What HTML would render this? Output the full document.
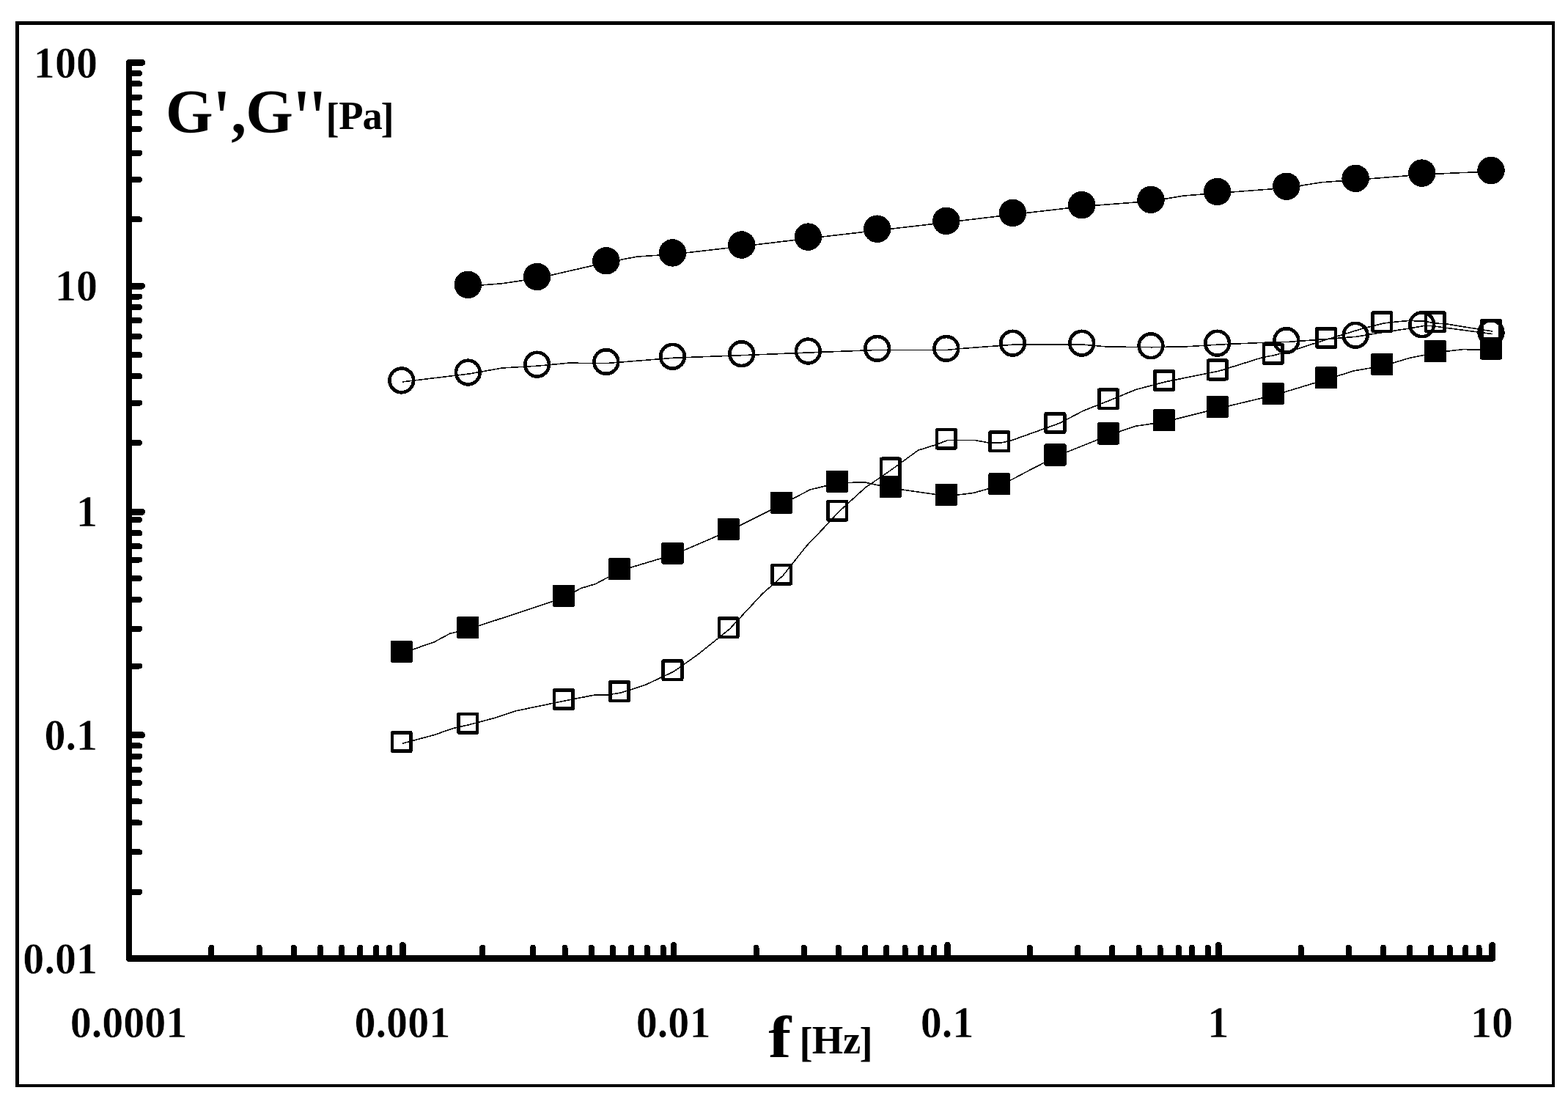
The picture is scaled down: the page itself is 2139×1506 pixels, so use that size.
<!DOCTYPE html>
<html lang="en"><head><meta charset="utf-8"><title>G&#39;, G&#39;&#39; [Pa] versus f [Hz]</title>
<style>
html,body{margin:0;padding:0;background:#fff;}
body{width:2139px;height:1506px;overflow:hidden;}
svg{display:block;}
text{font-family:"Liberation Serif",serif;font-weight:bold;fill:#000;}
.lab{font-size:58.1px;stroke:#fff;stroke-width:0.5px;}
.ttl{font-size:83px;}
.unit{font-size:54.5px;}
.ax{stroke:#000;fill:none;stroke-linecap:round;stroke-linejoin:round;}
.ln{stroke:#000;stroke-width:1.6;fill:none;stroke-linejoin:round;}
.om{stroke:#000;stroke-width:4.7;fill:none;}
.fm{fill:#000;stroke:none;}
</style></head><body>
<svg width="2139" height="1506" viewBox="0 0 2139 1506" shape-rendering="crispEdges">
<rect x="0" y="0" width="2139" height="1506" fill="#fff"/>
<path fill="#000" fill-rule="evenodd" d="M21.05 29H2120.9V1482.85H21.05ZM25.95 33.9V1478.9H2117V33.9Z"/>
<g class="ax">
<path stroke-width="8.2" d="M176 85.44V1307.4"/>
<path stroke-width="9" d="M176 1307.4H2035.62"/>
<path stroke-width="9" d="M176 1002.82H193.6M176 698.23H193.6M176 390.02H193.6M176 85.44H193.6"/>
<path stroke-width="8" d="M176 1216.75H190.1M176 1162.36H190.1M176 1122.47H190.1M176 1093.47H190.1M176 1068.08H190.1M176 1049.95H190.1M176 1031.82H190.1M176 1017.32H190.1M176 908.54H190.1M176 857.78H190.1M176 817.89H190.1M176 788.88H190.1M176 763.5H190.1M176 745.37H190.1M176 727.24H190.1M176 709.11H190.1M176 603.96H190.1M176 549.57H190.1M176 513.31H190.1M176 484.3H190.1M176 458.92H190.1M176 437.16H190.1M176 419.03H190.1M176 404.53H190.1M176 299.37H190.1M176 244.98H190.1M176 208.72H190.1M176 176.09H190.1M176 154.33H190.1M176 132.58H190.1M176 114.45H190.1M176 99.94H190.1"/>
<path stroke-width="8.6" d="M549.38 1307.4V1289.2M919.12 1307.4V1289.2M1292.5 1307.4V1289.2M1662.25 1307.4V1289.2M2035.62 1307.4V1289.2"/>
<path stroke-width="8" d="M288.38 1307.4V1292.8M353.62 1307.4V1292.8M400.75 1307.4V1292.8M437 1307.4V1292.8M466 1307.4V1292.8M491.38 1307.4V1292.8M513.12 1307.4V1292.8M531.25 1307.4V1292.8M658.12 1307.4V1292.8M727 1307.4V1292.8M770.5 1307.4V1292.8M806.75 1307.4V1292.8M835.75 1307.4V1292.8M861.12 1307.4V1292.8M882.88 1307.4V1292.8M904.62 1307.4V1292.8M1031.5 1307.4V1292.8M1096.75 1307.4V1292.8M1143.88 1307.4V1292.8M1180.12 1307.4V1292.8M1209.12 1307.4V1292.8M1234.5 1307.4V1292.8M1256.25 1307.4V1292.8M1274.38 1307.4V1292.8M1404.88 1307.4V1292.8M1470.12 1307.4V1292.8M1517.25 1307.4V1292.8M1553.5 1307.4V1292.8M1582.5 1307.4V1292.8M1607.88 1307.4V1292.8M1626 1307.4V1292.8M1647.75 1307.4V1292.8M1774.62 1307.4V1292.8M1839.88 1307.4V1292.8M1887 1307.4V1292.8M1923.25 1307.4V1292.8M1952.25 1307.4V1292.8M1977.62 1307.4V1292.8M1999.38 1307.4V1292.8M2017.5 1307.4V1292.8"/>
</g>
<g class="ln">
<path d="M640 390.32L685 386.75L734.25 379.44L828.5 357.69L870 350L919.12 346.81L1013.38 335.93L1104 325.05L1198.25 314.18L1292.5 303.3L1383.12 292.42L1477.38 281.54L1571.62 274.29L1615 267L1662.25 263.41L1756.5 256.16L1802.5 248.75L1850.75 245.28L1941.38 238.03L1995 235.5L2035.62 234.4"/>
<path d="M549.38 520.86L640 509.98L685 502L734.25 499.1L775 495.25L828.5 495.48L919.12 488.22L1013.38 484.6L1104 480.97L1198.25 477.35L1292.5 477.35L1310 475.6L1383.12 470.09L1477.38 470.09L1510 473L1571.62 473.72L1620.4 472.7L1662.25 470.09L1721.6 467.4L1756.5 466.47L1794.6 463.7L1850.75 459.22L1882.6 454L1921.3 448.2L1941.38 444.71L1952.2 444.4L1973 447.3L2035.62 455.59"/>
<path d="M549.38 890.71L592.5 875.75L613.75 864.25L623 862L640 858.08L740 825L770.5 814.56L792.5 802.5L812.5 796.5L846.62 778.3L919.12 756.55L995.25 723.91L1067.75 687.65L1105 668L1143.88 658.65L1180 658L1216.38 665.9L1292.5 676.78L1327.5 672.5L1365 662.27L1400 643.75L1441.12 622.39L1513.62 593.38L1549.3 581.3L1589.75 575.25L1662.25 557.12L1738.38 538.99L1810.88 517.23L1847 505.8L1887 499.1L1923 488.3L1959.5 480.97L1995.4 476.6L2035.62 477.35"/>
<path d="M549.38 1013.99L592.5 1002.5L617.5 993.75L640 988.61L672.5 980L705 969.5L770.5 955.98L810 948.25L829.75 947.75L846.62 945.1L880 934.5L919.12 916.09L952.5 892.5L995.25 858.08L1040 810L1067.75 785.56L1100 745L1127.5 716.25L1143.88 698.53L1180 665.5L1216.38 640.52L1252.5 614.25L1275.75 607L1292.5 600.63L1330 600.5L1350 604.25L1365 604.26L1380 600.75L1441.12 578.87L1447.5 576.25L1477.5 560.5L1513.62 546.24L1549.3 531.5L1589.75 520.86L1646.3 509.5L1662.25 506.35L1722.1 487.6L1738.38 484.6L1770.3 475.8L1810.88 462.84L1859.6 447.9L1887 441.09L1900 439.5L1921.9 437.4L1943 438.3L1959.5 441.09L1973 441.9L2015 448.7L2035.62 451.96"/>
</g>
<g class="fm">
<circle cx="638.37" cy="388.39" r="18.75"/>
<circle cx="732.62" cy="377.51" r="18.75"/>
<circle cx="826.87" cy="355.76" r="18.75"/>
<circle cx="917.49" cy="344.88" r="18.75"/>
<circle cx="1011.74" cy="334" r="18.75"/>
<circle cx="1102.37" cy="323.12" r="18.75"/>
<circle cx="1196.62" cy="312.24" r="18.75"/>
<circle cx="1290.87" cy="301.37" r="18.75"/>
<circle cx="1381.49" cy="290.49" r="18.75"/>
<circle cx="1475.74" cy="279.61" r="18.75"/>
<circle cx="1569.99" cy="272.36" r="18.75"/>
<circle cx="1660.62" cy="261.48" r="18.75"/>
<circle cx="1754.87" cy="254.23" r="18.75"/>
<circle cx="1849.12" cy="243.35" r="18.75"/>
<circle cx="1939.74" cy="236.1" r="18.75"/>
<circle cx="2033.99" cy="232.47" r="18.75"/>
<rect x="532.64" y="873.68" width="30.2" height="30.2" rx="2"/>
<rect x="623.27" y="841.04" width="30.2" height="30.2" rx="2"/>
<rect x="753.77" y="797.53" width="30.2" height="30.2" rx="2"/>
<rect x="829.89" y="761.27" width="30.2" height="30.2" rx="2"/>
<rect x="902.39" y="739.52" width="30.2" height="30.2" rx="2"/>
<rect x="978.52" y="706.88" width="30.2" height="30.2" rx="2"/>
<rect x="1051.02" y="670.62" width="30.2" height="30.2" rx="2"/>
<rect x="1127.14" y="641.61" width="30.2" height="30.2" rx="2"/>
<rect x="1199.64" y="648.87" width="30.2" height="30.2" rx="2"/>
<rect x="1275.77" y="659.74" width="30.2" height="30.2" rx="2"/>
<rect x="1348.27" y="645.24" width="30.2" height="30.2" rx="2"/>
<rect x="1424.39" y="605.35" width="30.2" height="30.2" rx="2"/>
<rect x="1496.89" y="576.35" width="30.2" height="30.2" rx="2"/>
<rect x="1573.02" y="558.22" width="30.2" height="30.2" rx="2"/>
<rect x="1645.52" y="540.09" width="30.2" height="30.2" rx="2"/>
<rect x="1721.64" y="521.96" width="30.2" height="30.2" rx="2"/>
<rect x="1794.14" y="500.2" width="30.2" height="30.2" rx="2"/>
<rect x="1870.27" y="482.07" width="30.2" height="30.2" rx="2"/>
<rect x="1942.77" y="463.94" width="30.2" height="30.2" rx="2"/>
<rect x="2018.89" y="460.31" width="30.2" height="30.2" rx="2"/>
</g>
<g class="om">
<circle cx="547.74" cy="518.93" r="16.35"/>
<circle cx="638.37" cy="508.05" r="16.35"/>
<circle cx="732.62" cy="497.17" r="16.35"/>
<circle cx="826.87" cy="493.54" r="16.35"/>
<circle cx="917.49" cy="486.29" r="16.35"/>
<circle cx="1011.74" cy="482.67" r="16.35"/>
<circle cx="1102.37" cy="479.04" r="16.35"/>
<circle cx="1196.62" cy="475.41" r="16.35"/>
<circle cx="1290.87" cy="475.41" r="16.35"/>
<circle cx="1381.49" cy="468.16" r="16.35"/>
<circle cx="1475.74" cy="468.16" r="16.35"/>
<circle cx="1569.99" cy="471.79" r="16.35"/>
<circle cx="1660.62" cy="468.16" r="16.35"/>
<circle cx="1754.87" cy="464.54" r="16.35"/>
<circle cx="1849.12" cy="457.28" r="16.35"/>
<circle cx="1939.74" cy="442.78" r="16.35"/>
<circle cx="2033.99" cy="453.66" r="16.35"/>
<rect x="534.99" y="999.31" width="25.5" height="25.5" rx="1"/>
<rect x="625.62" y="973.93" width="25.5" height="25.5" rx="1"/>
<rect x="756.12" y="941.3" width="25.5" height="25.5" rx="1"/>
<rect x="832.24" y="930.42" width="25.5" height="25.5" rx="1"/>
<rect x="904.74" y="901.41" width="25.5" height="25.5" rx="1"/>
<rect x="980.87" y="843.39" width="25.5" height="25.5" rx="1"/>
<rect x="1053.37" y="770.87" width="25.5" height="25.5" rx="1"/>
<rect x="1129.49" y="683.85" width="25.5" height="25.5" rx="1"/>
<rect x="1201.99" y="625.83" width="25.5" height="25.5" rx="1"/>
<rect x="1278.12" y="585.95" width="25.5" height="25.5" rx="1"/>
<rect x="1350.62" y="589.57" width="25.5" height="25.5" rx="1"/>
<rect x="1426.74" y="564.19" width="25.5" height="25.5" rx="1"/>
<rect x="1499.24" y="531.56" width="25.5" height="25.5" rx="1"/>
<rect x="1575.37" y="506.18" width="25.5" height="25.5" rx="1"/>
<rect x="1647.87" y="491.67" width="25.5" height="25.5" rx="1"/>
<rect x="1723.99" y="469.92" width="25.5" height="25.5" rx="1"/>
<rect x="1796.49" y="448.16" width="25.5" height="25.5" rx="1"/>
<rect x="1872.62" y="426.4" width="25.5" height="25.5" rx="1"/>
<rect x="1945.12" y="426.4" width="25.5" height="25.5" rx="1"/>
<rect x="2021.24" y="437.28" width="25.5" height="25.5" rx="1"/>
</g>
<text class="lab" transform="translate(133 105.54) scale(1 1.05)" text-anchor="end">100</text>
<text class="lab" transform="translate(133 410.12) scale(1 1.05)" text-anchor="end">10</text>
<text class="lab" transform="translate(133 718.33) scale(1 1.05)" text-anchor="end">1</text>
<text class="lab" transform="translate(133 1022.92) scale(1 1.05)" text-anchor="end">0.1</text>
<text class="lab" transform="translate(133 1327.5) scale(1 1.05)" text-anchor="end">0.01</text>
<text class="lab" transform="translate(175.5 1414.7) scale(1 1.05)" text-anchor="middle">0.0001</text>
<text class="lab" transform="translate(548.88 1414.7) scale(1 1.05)" text-anchor="middle">0.001</text>
<text class="lab" transform="translate(918.62 1414.7) scale(1 1.05)" text-anchor="middle">0.01</text>
<text class="lab" transform="translate(1292 1414.7) scale(1 1.05)" text-anchor="middle">0.1</text>
<text class="lab" transform="translate(1661.75 1414.7) scale(1 1.05)" text-anchor="middle">1</text>
<text class="lab" transform="translate(2035.12 1414.7) scale(1 1.05)" text-anchor="middle">10</text>
<g><text class="ttl" transform="translate(225.9 181.2) scale(1 1.0257)">G</text><text class="ttl" transform="translate(290.9 197.4) scale(1 1.333)">'</text><text class="ttl" transform="translate(315.2 181.2) scale(1 1.0257)">,</text><text class="ttl" transform="translate(335.15 181.2) scale(1 1.0257)">G</text><text class="ttl" transform="translate(400.1 197.4) scale(1 1.333)" x="0 21.7">''</text><text class="unit" transform="translate(444.4 180) scale(1 1.042)">[</text><text class="unit" transform="translate(462.24 175.8) scale(1 1)" x="0 32.16">Pa</text><text class="unit" transform="translate(519.4 180) scale(1 1.042)">]</text></g>
<g><text class="ttl" transform="translate(1048.2 1442.1) scale(1.125 0.963)">f</text><text class="unit" transform="translate(1090.5 1441.1) scale(1 1.042)">[</text><text class="unit" transform="translate(1107.8 1437.1) scale(1 1)" x="0 42.3">Hz</text><text class="unit" transform="translate(1172.5 1441.1) scale(1 1.042)">]</text></g>
</svg></body></html>
